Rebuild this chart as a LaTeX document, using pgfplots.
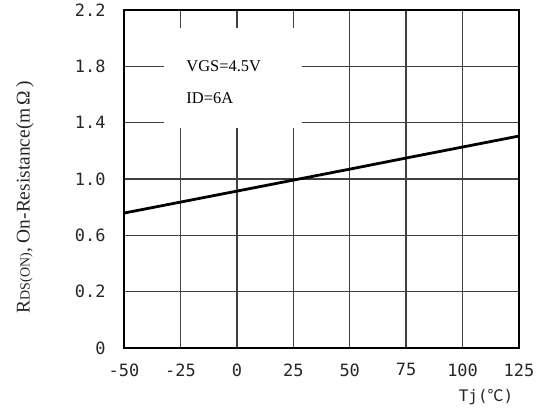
\documentclass[border=0pt]{standalone}
\usepackage{fontspec}
\setmainfont{Liberation Serif}
\setmonofont{DejaVu Sans Mono}
\newfontfamily\cjk{Noto Sans CJK SC}
\usepackage{pgfplots}
\pgfplotsset{compat=1.18}
\begin{document}
\begin{tikzpicture}[x=1bp,y=1bp]
\path[use as bounding box] (0,0) rectangle (536,409);
\begin{axis}[at={(124bp,61bp)}, anchor=south west, scale only axis,
  width=395bp, height=338bp,
  xmin=-50, xmax=125, ymin=-0.2, ymax=2.2,
  xtick={-50,-25,0,25,50,75,100,125},
  xticklabels={-50,-25,0,25,50,75,100,125},
  ytick={-0.2,0.2,0.6,1.0,1.4,1.8,2.2},
  yticklabels={0,0.2,0.6,1.0,1.4,1.8,2.2},
  grid=major, grid style={black!75, line width=1.5pt},
  axis line style={black, line width=1.5pt},
  major tick length=0pt,
  tick label style={font=\ttfamily\fontsize{17}{17}\selectfont, text=black!85},
  xticklabel style={yshift=-12bp},
  yticklabel style={xshift=-15bp},
  clip=false,
]
\fill[white] (axis cs:-32.3,2.072) rectangle (axis cs:28.9,1.362);
\node[anchor=west, font=\fontsize{16.5}{16.5}\selectfont] at (axis cs:-23.9,1.80) {VGS=4.5V};
\node[anchor=west, font=\fontsize{16.5}{16.5}\selectfont] at (axis cs:-23.9,1.575) {ID=6A};
\addplot[black, line width=2.8pt] coordinates {
(-50,0.758) (-25,0.836) (0,0.914) (25,0.992) (50,1.070) (75,1.149) (100,1.227) (125,1.305)
};
\end{axis}
\node[rotate=90, font=\fontsize{19.5}{19.5}\selectfont, text=black!85] at (25,212) {R{\fontsize{14}{14}\selectfont DS(ON)}, On-Resistance(m\,Ω\,)};
\node[font=\ttfamily\fontsize{16}{16}\selectfont, text=black!85] at (486,12) {Tj({\cjk ℃})};
\end{tikzpicture}
\end{document}
